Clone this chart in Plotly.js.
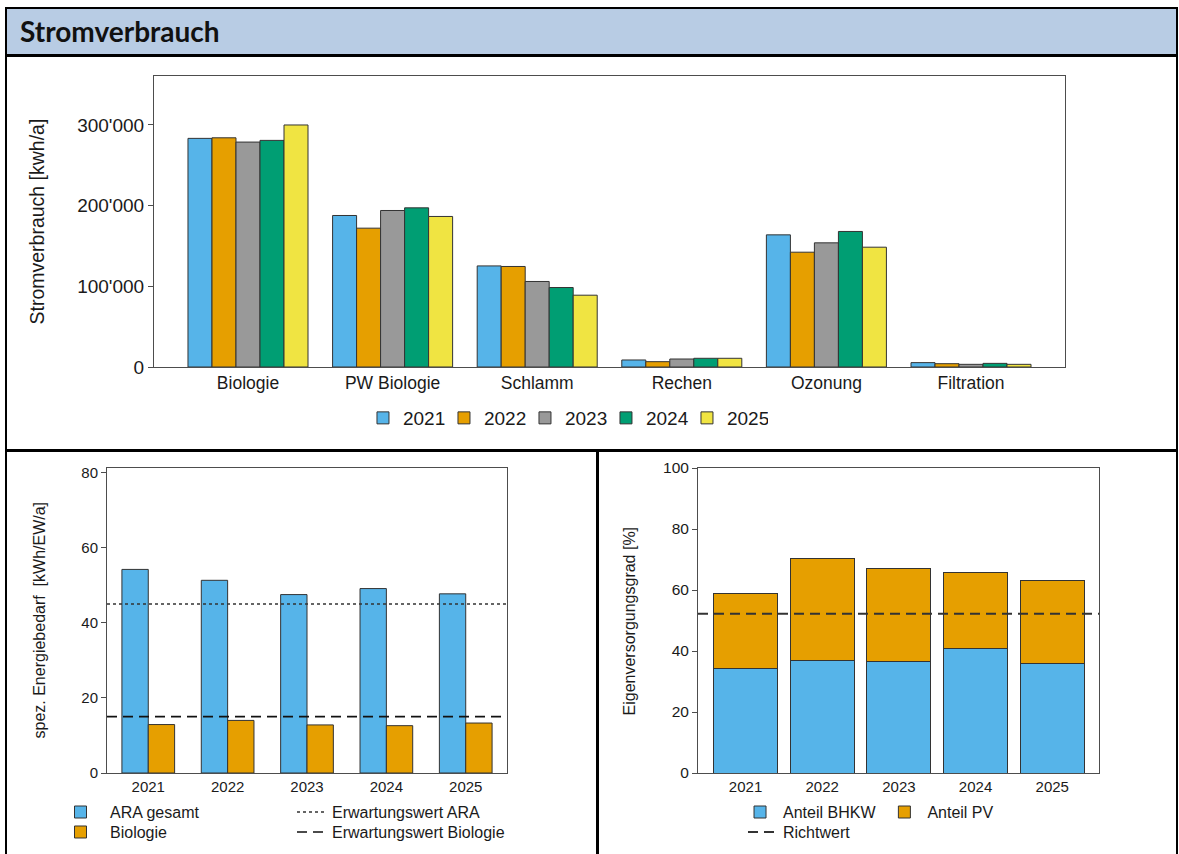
<!DOCTYPE html>
<html>
<head>
<meta charset="utf-8">
<script src="https://cdn.plot.ly/plotly-3.0.1.min.js"></script>
<style>
  body { margin: 0; background: #fff; width: 1179px; height: 854px; overflow: hidden; position: relative; }
  .ln { position: absolute; background: #000; z-index: 5; }
  #kopf { position: absolute; left: 6px; top: 9px; width: 1170px; height: 46px; background: #b8cce4; }
  #kopf span { position: absolute; left: 14px; top: 8px; font: bold 28px Lato, "Noto Sans", sans-serif; line-height: 28px; color: #111; }
  .chart { position: absolute; }
</style>
</head>
<body>
<div id="kopf"><span>Stromverbrauch</span></div>
<div class="ln" style="left:5px;top:7px;width:1173px;height:2px"></div>
<div class="ln" style="left:5px;top:54px;width:1173px;height:3px"></div>
<div class="ln" style="left:5px;top:449px;width:1173px;height:3px"></div>
<div class="ln" style="left:5px;top:7px;width:2px;height:847px"></div>
<div class="ln" style="left:1176px;top:7px;width:2px;height:847px"></div>
<div class="ln" style="left:596px;top:450px;width:3px;height:404px"></div>

<div id="strom" class="chart" style="left:0;top:57px;width:1179px;height:392px"></div>
<div id="energie" class="chart" style="left:0;top:452px;width:596px;height:402px"></div>
<div id="eigen" class="chart" style="left:599px;top:452px;width:580px;height:402px"></div>

<script>
// Stromverbrauch je Anlageteil [kWh/a]
var bereiche = ["Biologie", "PW Biologie", "Schlamm", "Rechen", "Ozonung", "Filtration"];
var jahre = ["2021", "2022", "2023", "2024", "2025"];
var strom2021 = [283400, 187800, 125300, 8700, 163800, 5400];
var strom2022 = [284100, 172100, 124600, 6600, 142300, 4100];
var strom2023 = [278800, 194000, 106000, 9900, 153900, 3300];
var strom2024 = [280900, 197300, 98500, 10800, 168000, 4500];
var strom2025 = [300000, 186600, 89000, 10800, 148500, 3300];
var stromTickVals = [0, 100000, 200000, 300000];
var stromTickText = ["0", "100'000", "200'000", "300'000"];

// spez. Energiebedarf [kWh/EW/a]
var araGesamt = [54.2, 51.3, 47.5, 49.1, 47.7];
var biologie = [12.9, 14.0, 12.8, 12.6, 13.3];
var erwartungAra = 45;
var erwartungBio = 15;

// Eigenversorgungsgrad [%]
var anteilBhkw = [34.4, 37.0, 36.6, 40.7, 35.9];
var anteilPv = [24.4, 33.3, 30.6, 24.9, 27.2];
var richtwert = 52.2;

var farben = ["#56b4e9", "#e69f00", "#999999", "#009e73", "#f0e442"];
var schrift = "Liberation Sans, Arial, sans-serif";
var textFarbe = "#1a1a1a";
var rahmen = "#4d4d4d";

// --- oben: Stromverbrauch ---
var stromWerte = [strom2021, strom2022, strom2023, strom2024, strom2025];
var stromData = jahre.map(function (j, i) {
  return {
    type: "bar", name: j, x: bereiche, y: stromWerte[i],
    marker: {color: farben[i], line: {color: "#333", width: 1}},
    hoverinfo: "x+y+name"
  };
});

var stromLayout = {
  width: 1179, height: 392,
  margin: {l: 154, r: 114, t: 19, b: 82, autoexpand: false},
  paper_bgcolor: "rgba(0,0,0,0)", plot_bgcolor: "#fff",
  font: {family: schrift, color: textFarbe},
  showlegend: true,
  barmode: "group", bargap: 0.17, bargroupgap: 0,
  xaxis: {
    type: "category", range: [-0.65, 5.65], showline: true, mirror: true,
    linecolor: rahmen, linewidth: 1, ticks: "", tickfont: {size: 17.5}
  },
  yaxis: {
    range: [0, 360700], showline: true, mirror: true, linecolor: rahmen, linewidth: 1,
    showgrid: false, zeroline: false, ticks: "outside", ticklen: 5, tickcolor: rahmen,
    tickvals: stromTickVals, ticktext: stromTickText, tickfont: {size: 19}
  },
  legend: {
    orientation: "h", x: 0.2294, xanchor: "left", y: -0.110, yanchor: "top",
    font: {size: 19}, entrywidth: 36, itemwidth: 30
  },
  annotations: [{
    text: "Stromverbrauch [kwh/a]", textangle: -90, showarrow: false,
    xref: "paper", yref: "paper", x: -0.1295, y: 0.5, xanchor: "center", yanchor: "middle",
    font: {size: 19.5}
  }]
};

Plotly.newPlot("strom", stromData, stromLayout, {displayModeBar: false});

// --- unten links: spez. Energiebedarf ---
var energieData = [
  {type: "bar", name: "ARA gesamt", x: jahre, y: araGesamt,
   marker: {color: "#56b4e9", line: {color: "#333", width: 1}}},
  {type: "bar", name: "Biologie", x: jahre, y: biologie, legend: "legend3",
   marker: {color: "#e69f00", line: {color: "#333", width: 1}}},
  {type: "scatter", mode: "lines", name: "Erwartungswert ARA", xaxis: "x2",
   x: [0, 1], y: [erwartungAra, erwartungAra], legend: "legend2",
   line: {color: "#333", width: 1.5, dash: "dot"}},
  {type: "scatter", mode: "lines", name: "Erwartungswert Biologie", xaxis: "x2",
   x: [0, 1], y: [erwartungBio, erwartungBio], legend: "legend4",
   line: {color: "#111", width: 1.6, dash: "10px,6px"}}
];

var zeile1 = -0.0725, zeile2 = -0.138;
var energieLayout = {
  width: 596, height: 402,
  margin: {l: 107, r: 89, t: 16, b: 81, autoexpand: false},
  paper_bgcolor: "rgba(0,0,0,0)", plot_bgcolor: "#fff",
  font: {family: schrift, color: textFarbe},
  showlegend: true,
  barmode: "group", bargap: 0.336, bargroupgap: 0,
  xaxis: {
    type: "category", range: [-0.52, 4.52], showline: true, mirror: true,
    linecolor: rahmen, ticks: "", tickfont: {size: 15}
  },
  xaxis2: {overlaying: "x", range: [0, 1], visible: false},
  yaxis: {
    range: [0, 81.2], showline: true, mirror: true, linecolor: rahmen,
    showgrid: false, zeroline: false, ticks: "outside", ticklen: 5, tickcolor: rahmen,
    tickvals: [0, 20, 40, 60, 80], tickfont: {size: 15}
  },
  legend: {x: -0.14, xanchor: "left", y: zeile1, yanchor: "top", font: {size: 16}, itemwidth: 49},
  legend3: {x: -0.14, xanchor: "left", y: zeile2, yanchor: "top", font: {size: 16}, itemwidth: 49},
  legend2: {x: 0.4625, xanchor: "left", y: zeile1, yanchor: "top", font: {size: 16}, itemwidth: 30},
  legend4: {x: 0.4625, xanchor: "left", y: zeile2, yanchor: "top", font: {size: 16}, itemwidth: 30},
  annotations: [{
    text: "spez. Energiebedarf\u00a0 [kWh/EW/a]", textangle: -90, showarrow: false,
    xref: "paper", yref: "paper", x: -0.17, y: 0.5, xanchor: "center", yanchor: "middle",
    font: {size: 16}
  }]
};

Plotly.newPlot("energie", energieData, energieLayout, {displayModeBar: false});

// --- unten rechts: Eigenversorgungsgrad ---
var eigenData = [
  {type: "bar", name: "Anteil BHKW", x: jahre, y: anteilBhkw,
   marker: {color: "#56b4e9", line: {color: "#333", width: 1}}},
  {type: "bar", name: "Anteil PV", x: jahre, y: anteilPv,
   marker: {color: "#e69f00", line: {color: "#333", width: 1}}},
  {type: "scatter", mode: "lines", name: "Richtwert", xaxis: "x2",
   x: [0, 1], y: [richtwert, richtwert], legend: "legend2",
   line: {color: "#333", width: 2, dash: "10px,6px"}}
];

var eigenLayout = {
  width: 580, height: 402,
  margin: {l: 99, r: 80, t: 16, b: 81, autoexpand: false},
  paper_bgcolor: "rgba(0,0,0,0)", plot_bgcolor: "#fff",
  font: {family: schrift, color: textFarbe},
  showlegend: true,
  barmode: "stack", bargap: 0.166,
  xaxis: {
    type: "category", range: [-0.62, 4.61], showline: true, mirror: true,
    linecolor: rahmen, ticks: "", tickfont: {size: 15}
  },
  xaxis2: {overlaying: "x", range: [0, 1], visible: false},
  yaxis: {
    range: [0, 100], showline: true, mirror: true, linecolor: rahmen,
    showgrid: false, zeroline: false, ticks: "outside", ticklen: 5, tickcolor: rahmen,
    tickvals: [0, 20, 40, 60, 80, 100], tickfont: {size: 15.5}
  },
  legend: {
    orientation: "h", traceorder: "normal", x: 0.0973, xanchor: "left", y: zeile1, yanchor: "top",
    font: {size: 16}, itemwidth: 36
  },
  legend2: {
    orientation: "v", x: 0.1122, xanchor: "left", y: zeile2, yanchor: "top",
    font: {size: 16}, itemwidth: 30
  },
  annotations: [{
    text: "Eigenversorgungsgrad [%]", textangle: -90, showarrow: false,
    xref: "paper", yref: "paper", x: -0.1696, y: 0.5, xanchor: "center", yanchor: "middle",
    font: {size: 16}
  }]
};

Plotly.newPlot("eigen", eigenData, eigenLayout, {displayModeBar: false});
</script>
</body>
</html>
